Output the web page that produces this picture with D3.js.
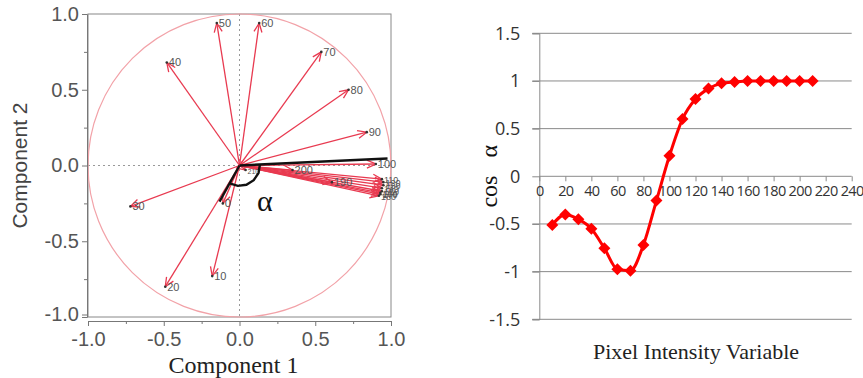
<!DOCTYPE html>
<html>
<head>
<meta charset="utf-8">
<script src="https://cdnjs.cloudflare.com/ajax/libs/d3/7.8.5/d3.min.js"></script>
<style>
body{margin:0;background:#fff}
</style>
</head>
<body>
<div id="chart"></div>
<script>
var width = 863
var height = 378

// left panel: loadings of each pixel-intensity variable on comp 1 / comp 2
var loadLabels = ["0","10","20","30","40","50","60","70","80","90","100","110","120","130","140","150","160","170","180","190","200","210"]
var loadX = [-0.11,-0.18,-0.49,-0.72,-0.48,-0.15,0.13,0.54,0.72,0.84,0.90,0.94,0.95,0.95,0.94,0.94,0.93,0.93,0.92,0.61,0.35,0.04]
var loadY = [-0.25,-0.73,-0.80,-0.27,0.68,0.94,0.94,0.75,0.50,0.22,0.01,-0.09,-0.11,-0.13,-0.15,-0.17,-0.18,-0.19,-0.20,-0.11,-0.03,-0.03]
// black lines drawn over the biplot (the two vectors forming alpha)
var alphaX = [0.977,-0.132]
var alphaY = [0.046,-0.238]
var leftTicks = [-1,-0.5,0,0.5,1]
var leftMinor = [-0.75,-0.25,0.25,0.75]

// right panel: cos alpha per pixel intensity variable
var pixVar = [10,20,30,40,50,60,70,80,90,100,110,120,130,140,150,160,170,180,190,200,210]
var cosA = [-0.51,-0.40,-0.45,-0.55,-0.755,-0.975,-0.99,-0.72,-0.255,0.215,0.60,0.81,0.92,0.975,0.99,1,1,1,1,1,1]
var rightYTicks = [-1.5,-1,-0.5,0,0.5,1,1.5]
var rightXTicks = [0,20,40,60,80,100,120,140,160,180,200,220,240]

var arrowColor = "#e83a50"
var serif = "Liberation Serif, Times New Roman, serif"
var sans = "Liberation Sans, Arial, sans-serif"
var svg = d3.select("#chart").append("svg")
	.attr("width",width)
	.attr("height",height)

drawBiplot()
drawCosine()

function drawBiplot(){
	var x = d3.scaleLinear().domain([-1,1]).range([88,391])
	var y = d3.scaleLinear().domain([-1,1]).range([317,14])
	var g = svg.append("g")

	// frame
	g.append("rect")
		.attr("x",x(-1)).attr("y",y(1))
		.attr("width",x(1)-x(-1)).attr("height",y(-1)-y(1))
		.style("fill","none").style("stroke","#888").style("stroke-width",1)

	// dotted zero lines
	g.append("line").attr("x1",x(0)).attr("x2",x(0)).attr("y1",y(1)).attr("y2",y(-1))
		.style("stroke","#999").style("stroke-dasharray","2,3")
	g.append("line").attr("x1",x(-1)).attr("x2",x(1)).attr("y1",y(0)).attr("y2",y(0))
		.style("stroke","#999").style("stroke-dasharray","2,3")

	// unit circle
	g.append("ellipse")
		.attr("cx",x(0)).attr("cy",y(0))
		.attr("rx",x(1)-x(0)).attr("ry",y(0)-y(1))
		.style("fill","none").style("stroke","#f2a2a8").style("stroke-width",1.2)

	// y axis
	var yAxis = d3.axisLeft(y).tickValues(leftTicks).tickSize(5).tickPadding(3)
		.tickFormat(function(d){ return d.toFixed(1) })
	var ya = g.append("g").attr("transform","translate("+(x(-1)-1)+",0)").call(yAxis)
	ya.selectAll(".tick").filter(function(d){ return d==-1 }).attr("transform","translate(0,"+(y(-1)-2)+")")
	var yMinor = g.append("g").attr("transform","translate("+(x(-1)-1)+",0)")
		.call(d3.axisLeft(y).tickValues(leftMinor).tickSize(3).tickFormat(""))
	yMinor.select(".domain").remove()

	// x axis (sits a little below the frame)
	var xAxis = d3.axisBottom(x).tickValues(leftTicks).tickSize(5).tickPadding(6)
		.tickFormat(function(d){ return d.toFixed(1) })
	var xa = g.append("g").attr("transform","translate(0,"+(y(-1)+4)+")").call(xAxis)
	var xMinor = g.append("g").attr("transform","translate(0,"+(y(-1)+4)+")")
		.call(d3.axisBottom(x).tickValues(leftMinor).tickSize(3).tickFormat(""))
	xMinor.select(".domain").remove()

	;[ya,xa,yMinor,xMinor].forEach(function(a){
		a.selectAll("path,line").style("stroke","#777")
		a.selectAll("text").style("font-family",sans)
			.style("font-size","20px").style("fill","#555")
	})

	// arrowhead marker
	svg.append("defs").append("marker")
		.attr("id","head")
		.attr("viewBox","0 0 10 10")
		.attr("refX",10).attr("refY",5)
		.attr("markerWidth",10).attr("markerHeight",10)
		.attr("markerUnits","userSpaceOnUse")
		.attr("orient","auto")
		.append("path")
		.attr("d","M1,1 L10,5 L1,9")
		.style("fill","none").style("stroke",arrowColor).style("stroke-width",1.3)

	var idx = d3.range(loadLabels.length)
	g.selectAll(".load")
		.data(idx)
		.enter()
		.append("line")
		.attr("class","load")
		.attr("x1",x(0)).attr("y1",y(0))
		.attr("x2",function(i){ return x(loadX[i]) })
		.attr("y2",function(i){ return y(loadY[i]) })
		.style("stroke",arrowColor).style("stroke-width",1.3)
		.attr("marker-end","url(#head)")

	g.selectAll(".tip")
		.data(idx)
		.enter()
		.append("circle")
		.attr("cx",function(i){ return x(loadX[i]) })
		.attr("cy",function(i){ return y(loadY[i]) })
		.attr("r",1.3)
		.style("fill","#333")

	// labels of the tightly packed 110-180 vectors stack on top of each other
	g.selectAll(".loadLabel")
		.data(idx)
		.enter()
		.append("text")
		.attr("x",function(i){ return x(loadX[i])+2 })
		.attr("y",function(i){ return y(loadY[i])+4 })
		.style("font-family",sans)
		.style("font-size",function(i){
			if(loadLabels[i]=="210") return "7px"
			return (i>=11 && i<=18) ? "9px" : "11px"
		})
		.style("fill","#555")
		.text(function(i){ return loadLabels[i] })

	// black vectors and the alpha arc
	g.selectAll(".alpha")
		.data(alphaX)
		.enter()
		.append("line")
		.attr("x1",x(0)).attr("y1",y(0))
		.attr("x2",function(d){ return x(d) })
		.attr("y2",function(d,i){ return y(alphaY[i]) })
		.style("stroke","#111").style("stroke-width",2.4)

	var a0 = Math.atan2(alphaY[1],alphaX[1])
	var a1 = Math.atan2(alphaY[0],alphaX[0])
	var r = 0.135
	var pts = d3.range(6).map(function(k){
		var a = a0 + (a1-a0)*k/5
		return [x(r*Math.cos(a)), y(r*Math.sin(a))]
	})
	g.append("path")
		.attr("d",d3.line()(pts))
		.style("fill","none").style("stroke","#111").style("stroke-width",2.4)

	g.append("text")
		.attr("x",x(0.115)).attr("y",y(-0.3))
		.attr("font-family",serif)
		.style("font-size","30px").style("fill","#111")
		.text("α")

	svg.append("text")
		.attr("transform","translate(27,"+y(0)+") rotate(-90)")
		.attr("text-anchor","middle")
		.style("font-family",sans)
		.style("font-size","21px").style("fill","#444")
		.text("Component 2")

	svg.append("text")
		.attr("x",x(0)-6).attr("y",373)
		.attr("text-anchor","middle")
		.attr("font-family",serif)
		.style("font-size","24px").style("fill","#222")
		.text("Component 1")
}

function drawCosine(){
	var x = d3.scaleLinear().domain([0,240]).range([539.3,851.7])
	var y = d3.scaleLinear().domain([-1.5,1.5]).range([319.3,33.3])
	var g = svg.append("g")

	g.selectAll(".grid")
		.data(rightYTicks.filter(function(d){ return d!=0 }))
		.enter()
		.append("line")
		.attr("x1",x(0)-7).attr("x2",x(240))
		.attr("y1",function(d){ return y(d) }).attr("y2",function(d){ return y(d) })
		.style("stroke","#8a8a8a").style("stroke-width",1)

	var yAxis = d3.axisLeft(y).tickValues(rightYTicks).tickSize(7).tickPadding(12)
		.tickFormat(function(d){ return String(d) })
	var ya = g.append("g").attr("transform","translate("+x(0)+",0)").call(yAxis)

	var xAxis = d3.axisBottom(x).tickValues(rightXTicks).tickSize(5).tickPadding(4)
		.tickFormat(function(d){ return String(d) })
	var xa = g.append("g").attr("transform","translate(0,"+y(0)+")").call(xAxis)
	xa.select(".domain").attr("d","M"+x(0)+",0H"+x(240))

	;[ya,xa].forEach(function(a){
		a.selectAll("path,line").style("stroke","#8a8a8a")
	})
	ya.selectAll("text").style("font-family","'Open Sans','Liberation Sans',sans-serif")
		.style("font-size","18px").style("fill","#333")
	xa.selectAll("text").style("font-family","'Open Sans','Liberation Sans',sans-serif")
		.style("font-size","14.5px").style("fill","#333").style("letter-spacing","-0.6px")

	var line = d3.line()
		.x(function(d,i){ return x(pixVar[i]) })
		.y(function(d){ return y(d) })
		.curve(d3.curveMonotoneX)
	g.append("path")
		.attr("d",line(cosA))
		.style("fill","none").style("stroke","#ff0000").style("stroke-width",3)

	g.selectAll(".pt")
		.data(cosA)
		.enter()
		.append("path")
		.attr("d","M0,-6L6,0L0,6L-6,0Z")
		.attr("transform",function(d,i){ return "translate("+x(pixVar[i])+","+y(d)+")" })
		.style("fill","#ff0000")

	svg.append("text")
		.attr("transform","translate(497,"+y(0)+") rotate(-90)")
		.attr("text-anchor","middle")
		.attr("font-family",serif)
		.style("font-size","24px").style("word-spacing","12px").style("fill","#111")
		.text("cos α")

	svg.append("text")
		.attr("x",696).attr("y",359)
		.attr("text-anchor","middle")
		.attr("font-family",serif)
		.style("font-size","22px").style("fill","#222")
		.text("Pixel Intensity Variable")
}
</script>
</body>
</html>
